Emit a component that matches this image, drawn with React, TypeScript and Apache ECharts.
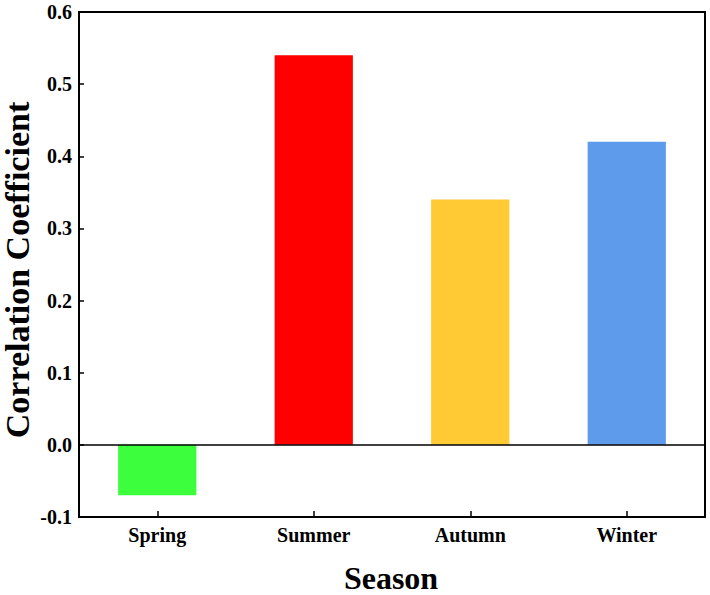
import React, { useEffect, useRef } from "react";
import * as echarts from "echarts";

const seasons = ["Spring", "Summer", "Autumn", "Winter"];
const correlation = [-0.07, 0.54, 0.34, 0.42];
const barColors = ["#3CFE3C", "#FF0000", "#FFCA33", "#5E9BEB"];
const xTitle = "Season";
const yTitle = "Correlation Coefficient";

const FONT = '"Liberation Serif", "Times New Roman", serif';

export default function App() {
  const ref = useRef<HTMLDivElement>(null);
  useEffect(() => {
    if (!ref.current) return;
    const chart = echarts.init(ref.current, null, { renderer: "svg" });
    chart.setOption({
      animation: false,
      backgroundColor: "#ffffff",
      grid: {
        left: 79,
        right: 5,
        top: 12,
        bottom: 78,
        outerBoundsMode: "none",
        containLabel: false,
        show: true,
        borderColor: "#000",
        borderWidth: 2,
        backgroundColor: "transparent",
      },
      graphic: [
        {
          type: "text",
          x: 391,
          y: 578,
          style: {
            text: xTitle,
            fontFamily: FONT,
            fontWeight: "bold",
            fontSize: 32,
            fill: "#000",
            align: "center",
            verticalAlign: "middle",
          },
        },
        {
          type: "text",
          x: 17,
          y: 270,
          rotation: Math.PI / 2,
          style: {
            text: yTitle,
            fontFamily: FONT,
            fontWeight: "bold",
            fontSize: 34,
            fill: "#000",
            align: "center",
            verticalAlign: "middle",
          },
        },
      ],
      xAxis: {
        type: "category",
        data: seasons,
        axisLine: { show: true, onZero: false, lineStyle: { color: "#000", width: 2 } },
        axisTick: { show: true, inside: true, alignWithLabel: true, length: 6, lineStyle: { color: "#000", width: 1.5 } },
        axisLabel: { fontFamily: FONT, fontWeight: "bold", fontSize: 20, color: "#000", margin: 8 },
        splitLine: { show: false },
      },
      yAxis: {
        type: "value",
        min: -0.1,
        max: 0.6,
        interval: 0.1,
        axisLine: { show: true, lineStyle: { color: "#000", width: 2 } },
        axisTick: { show: true, inside: true, length: 5, lineStyle: { color: "#000", width: 1.5 } },
        axisLabel: {
          fontFamily: FONT,
          fontWeight: "bold",
          fontSize: 20,
          color: "#000",
          margin: 7,
          formatter: (v: number) => v.toFixed(1),
        },
        splitLine: { show: false },
      },
      series: [
        {
          type: "bar",
          barWidth: "50%",
          data: correlation.map((v, i) => ({ value: v, itemStyle: { color: barColors[i] } })),
          markLine: {
            silent: true,
            symbol: "none",
            label: { show: false },
            lineStyle: { color: "#000", width: 1.5, type: "solid" },
            data: [{ yAxis: 0 }],
          },
        },
      ],
    });
    return () => chart.dispose();
  }, []);
  return (
    <div
      ref={ref}
      style={{ position: "absolute", left: 0, top: 0, width: 710, height: 595 }}
    />
  );
}
